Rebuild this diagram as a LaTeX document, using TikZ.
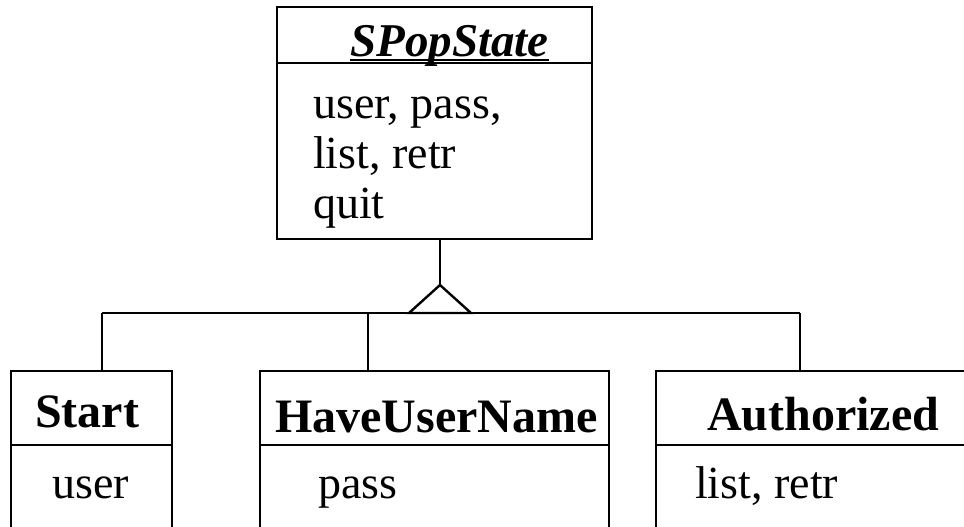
\documentclass[tikz,border=0pt]{standalone}
\usepackage{fontspec}
\setmainfont{Liberation Serif}
\begin{document}
\begin{tikzpicture}[x=1pt,y=-1pt,
  ln/.style={line width=2.4pt},
  box/.style={draw,ln,rectangle,inner sep=0pt},
  reg/.style={anchor=base west,inner sep=0pt,font=\fontsize{46}{50}\selectfont},
  bld/.style={anchor=base west,inner sep=0pt,font=\fontsize{48}{52}\selectfont\bfseries},
  ttl/.style={anchor=base west,inner sep=0pt,font=\fontsize{47}{52}\selectfont\bfseries\itshape}]
\useasboundingbox (0,0) rectangle (964,527);
\clip (0,0) rectangle (964,527);
% superclass
\node[box,minimum width=315pt,minimum height=232pt] (sp) at (434.5,123) {};
\draw[ln] (277,63) -- (592,63);
\node[ttl] (title) at (350,57) {SPopState};
\draw[line width=2pt] ([yshift=-3pt]title.base west) -- ([yshift=-3pt]title.base east);
\node[reg] (op1) at (313,118) {user, pass,};
\node[reg] (op2) at (313,168) {list, retr};
\node[reg] (op3) at (313,218) {quit};
% subclasses
\node[box,minimum width=161pt,minimum height=200pt] (start) at (91.5,471) {};
\node[box,minimum width=349pt,minimum height=200pt] (hun) at (434.5,471) {};
\node[box,minimum width=360pt,minimum height=200pt] (auth) at (836,471) {};
\draw[ln] (11,445) -- (172,445);
\draw[ln] (260,445) -- (609,445);
\draw[ln] (656,445) -- (1000,445);
\node[bld] (t1) at (35,427) {Start};
\node[bld] (t2) at (275,432) {HaveUserName};
\node[bld] (t3) at (707,430) {Authorized};
\node[reg] (a1) at (52,498) {user};
\node[reg] (a2) at (318,498) {pass};
\node[reg] (a3) at (695,498) {list, retr};
% generalization
\coordinate (apex) at (440,285);
\coordinate (bl) at (409,313);
\coordinate (br) at (471,313);
\coordinate (j1) at (102,313);
\coordinate (j2) at (368,313);
\coordinate (j3) at (800,313);
\draw[ln] (sp.south -| apex) -- (apex);
\draw[ln,line join=miter] (apex) -- (br) -- (bl) -- cycle;
\draw[ln] (j1) -- (j3);
\draw[ln] (j1) -- (j1 |- start.north);
\draw[ln] (j2) -- (j2 |- hun.north);
\draw[ln] (j3) -- (j3 |- auth.north);
\end{tikzpicture}
\end{document}
